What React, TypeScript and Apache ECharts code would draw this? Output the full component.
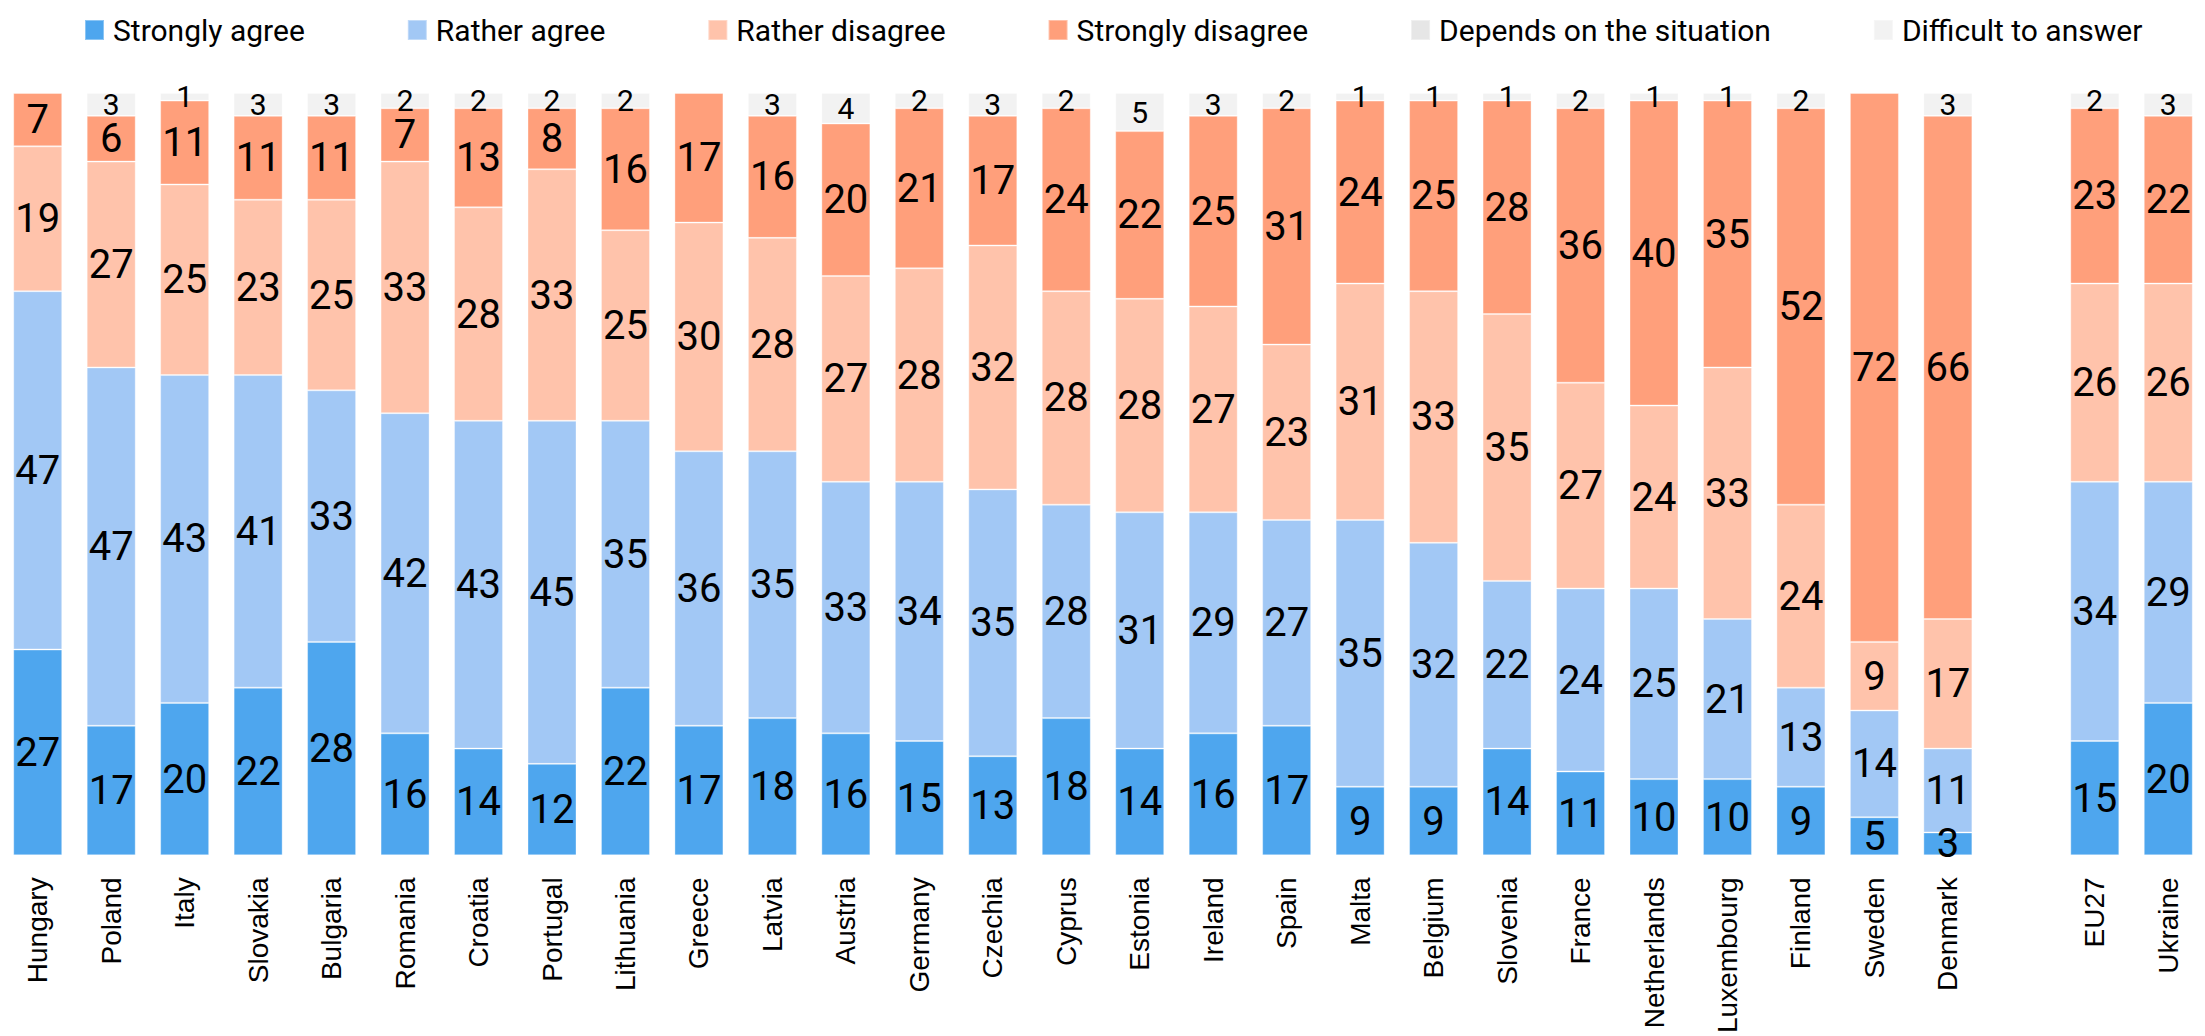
import React, { useEffect, useRef } from "react";
import * as echarts from "echarts";

const categories = [
  "Hungary", "Poland", "Italy", "Slovakia", "Bulgaria", "Romania", "Croatia", "Portugal",
  "Lithuania", "Greece", "Latvia", "Austria", "Germany", "Czechia", "Cyprus", "Estonia",
  "Ireland", "Spain", "Malta", "Belgium", "Slovenia", "France", "Netherlands", "Luxembourg",
  "Finland", "Sweden", "Denmark", "", "EU27", "Ukraine",
];

const stronglyAgree = [27, 17, 20, 22, 28, 16, 14, 12, 22, 17, 18, 16, 15, 13, 18, 14, 16, 17, 9, 9, 14, 11, 10, 10, 9, 5, 3, null, 15, 20];
const ratherAgree = [47, 47, 43, 41, 33, 42, 43, 45, 35, 36, 35, 33, 34, 35, 28, 31, 29, 27, 35, 32, 22, 24, 25, 21, 13, 14, 11, null, 34, 29];
const ratherDisagree = [19, 27, 25, 23, 25, 33, 28, 33, 25, 30, 28, 27, 28, 32, 28, 28, 27, 23, 31, 33, 35, 27, 24, 33, 24, 9, 17, null, 26, 26];
const stronglyDisagree = [7, 6, 11, 11, 11, 7, 13, 8, 16, 17, 16, 20, 21, 17, 24, 22, 25, 31, 24, 25, 28, 36, 40, 35, 52, 72, 66, null, 23, 22];
const dependsOnSituation = [null, null, null, null, null, null, null, null, null, null, null, null, null, null, null, null, null, null, null, null, null, null, null, null, null, null, null, null, null, null];
const difficultToAnswer = [null, 3, 1, 3, 3, 2, 2, 2, 2, null, 3, 4, 2, 3, 2, 5, 3, 2, 1, 1, 1, 2, 1, 1, 2, null, 3, null, 2, 3];

const seriesDefs = [
  { name: "Strongly agree", data: stronglyAgree, color: "#4ea6ee", size: 40 },
  { name: "Rather agree", data: ratherAgree, color: "#a2c8f5", size: 40 },
  { name: "Rather disagree", data: ratherDisagree, color: "#ffc3ab", size: 40 },
  { name: "Strongly disagree", data: stronglyDisagree, color: "#ff9f7b", size: 40 },
  { name: "Depends on the situation", data: dependsOnSituation, color: "#e6e6e6", size: 30 },
  { name: "Difficult to answer", data: difficultToAnswer, color: "#f2f2f2", size: 30 },
];

export default function App() {
  const ref = useRef<HTMLDivElement>(null);

  useEffect(() => {
    if (!ref.current) return;
    const chart = echarts.init(ref.current, null, { renderer: "svg" });
    chart.setOption({
      animation: false,
      backgroundColor: "#ffffff",
      legend: {
        left: 79,
        top: 10,
        itemWidth: 19,
        itemHeight: 20,
        itemGap: 102,
        icon: "rect",
        textStyle: {
          fontFamily: "Roboto",
          fontSize: 30,
          color: "#000",
          padding: [0, 0, 0, 4],
        },
        data: seriesDefs.map((s) => s.name),
      },
      grid: {
        left: 1,
        right: -3,
        top: 93,
        bottom: 178,
        containLabel: false,
      },
      xAxis: {
        type: "category",
        data: categories,
        axisLine: { show: false },
        axisTick: { show: false },
        axisLabel: {
          interval: 0,
          rotate: 90,
          margin: 22,
          fontFamily: "Liberation Sans",
          fontSize: 28,
          color: "#000",
        },
      },
      yAxis: {
        type: "value",
        min: 0,
        max: 100,
        show: false,
        splitLine: { show: false },
      },
      series: seriesDefs.map((s) => ({
        name: s.name,
        type: "bar",
        stack: "total",
        barWidth: 49,
        data: s.data,
        itemStyle: {
          color: s.color,
          borderColor: "rgba(255,255,255,0.35)",
          borderWidth: 1,
        },
        label: {
          show: true,
          position: "inside",
          fontFamily: "Roboto",
          fontSize: s.size,
          color: "#000",
          formatter: (p: any) => (p.value === null || p.value === undefined || p.value === 0 ? "" : String(p.value)),
        },
      })),
    });
    return () => chart.dispose();
  }, []);

  return (
    <div
      ref={ref}
      style={{ position: "absolute", left: 0, top: 0, width: 2205, height: 1036 }}
    />
  );
}
